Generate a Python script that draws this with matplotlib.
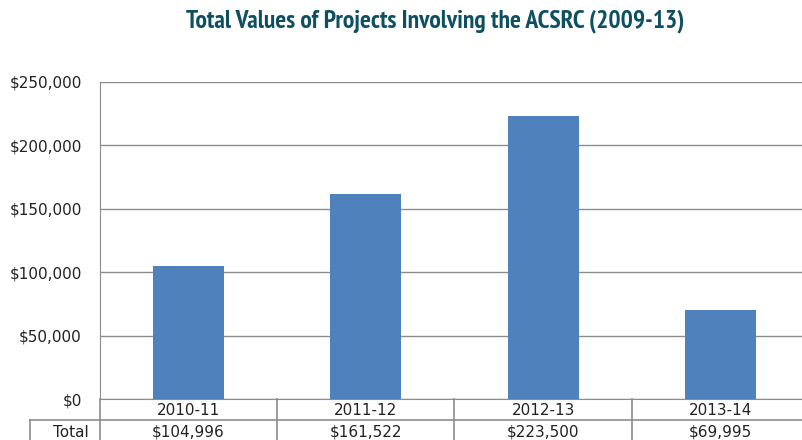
import matplotlib
matplotlib.use("Agg")
import matplotlib.pyplot as plt
from matplotlib.lines import Line2D
from matplotlib.ticker import FuncFormatter

categories = ["2010-11", "2011-12", "2012-13", "2013-14"]
values = [104996, 161522, 223500, 69995]
row_label = "Total"
title = "Total Values of Projects Involving the ACSRC (2009-13)"
yticks = [0, 50000, 100000, 150000, 200000, 250000]

W, H = 803, 440
fig = plt.figure(figsize=(W / 100, H / 100), dpi=100)
fig.patch.set_facecolor("white")

def fx(px):
    return px / W

def fy(py):
    return 1 - py / H

left, right, top, bottom = 100, 809, 82, 399
ax = fig.add_axes([fx(left), fy(bottom), fx(right - left), (bottom - top) / H])
x = range(len(categories))
ax.bar(x, values, width=0.4, color="#4F81BD", zorder=3)
ax.set_xlim(-0.5, len(categories) - 0.5)
ax.set_ylim(0, 250000)
ax.set_yticks(yticks)
ax.yaxis.set_major_formatter(FuncFormatter(lambda v, p: f"${int(v):,}"))
ax.tick_params(axis="y", length=0, pad=13, labelsize=11, labelcolor="#222222")
ax.set_xticks([])
ax.grid(axis="y", color="#8c8c8c", linewidth=1, zorder=0)
for s in ["top", "right"]:
    ax.spines[s].set_visible(False)
ax.spines["left"].set_color("#8c8c8c")
ax.spines["bottom"].set_color("#8c8c8c")

# table below
gray = "#8c8c8c"
col_w = (right - left) / len(categories)
row1_top, row1_bot, row2_bot = 399, 420, 445
fig.add_artist(Line2D([fx(30), fx(right)], [fy(row1_bot), fy(row1_bot)], color=gray, lw=1.2))
for i in range(len(categories) + 1):
    xp = left + i * col_w
    fig.add_artist(Line2D([fx(xp), fx(xp)], [fy(row1_top), fy(row2_bot)], color=gray, lw=1.2))
fig.add_artist(Line2D([fx(30), fx(30)], [fy(row1_bot), fy(row2_bot)], color=gray, lw=1.2))

for i, (c, v) in enumerate(zip(categories, values)):
    cx = left + (i + 0.5) * col_w
    fig.text(fx(cx), fy(410.5), c, ha="center", va="center", fontsize=11, color="#222222")
    fig.text(fx(cx), fy(432), f"${v:,}", ha="center", va="center", fontsize=11, color="#222222")
fig.text(fx(71), fy(432), row_label, ha="center", va="center", fontsize=11, color="#222222")

t = fig.text(fx(435), fy(21), title, ha="center", va="center", fontsize=16,
             fontweight="bold", color="#0E5062",
             family=["PT Sans Narrow", "Fira Sans Condensed", "DejaVu Sans"])
# scale to target width
fig.canvas.draw()
bb = t.get_window_extent()
target = 498
t.set_fontsize(16 * target / bb.width)

fig.savefig("out.png", dpi=100)
